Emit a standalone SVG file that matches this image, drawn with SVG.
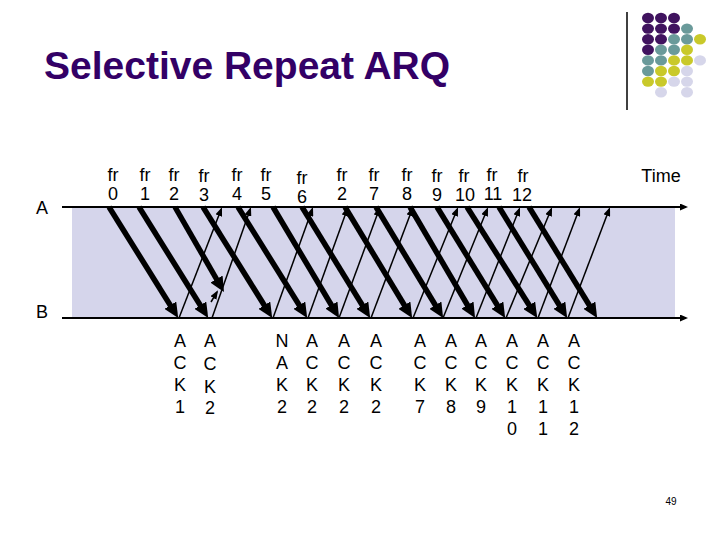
<svg xmlns="http://www.w3.org/2000/svg" width="720" height="540" viewBox="0 0 720 540">
<defs>
<style>
text{font-family:"Liberation Sans",Arial,sans-serif;fill:#000}
.lbl{font-size:18px;text-anchor:middle}
.title{font-size:39px;font-weight:bold;fill:#330066}
.thick{stroke:#000;stroke-width:5.5;fill:none;marker-end:url(#bigHead)}
.thin{stroke:#000;stroke-width:1.5;fill:none;marker-end:url(#smallHead)}
.axis{stroke:#000;stroke-width:2;fill:none;marker-end:url(#axisHead)}
.p{fill:#40135f}.t{fill:#6a9a9a}.y{fill:#c9c92a}.l{fill:#d6d6ea}
</style>
<marker id="bigHead" markerUnits="userSpaceOnUse" viewBox="0 0 15 14" markerWidth="15" markerHeight="14" refX="8" refY="7" orient="auto"><path d="M0,0 L15,7 L0,14 z" fill="#000"/></marker>
<marker id="smallHead" markerUnits="userSpaceOnUse" viewBox="0 0 9 7" markerWidth="9" markerHeight="7" refX="7" refY="3.5" orient="auto"><path d="M0,0 L9,3.5 L0,7 z" fill="#000"/></marker>
<marker id="axisHead" markerUnits="userSpaceOnUse" viewBox="0 0 8 7" markerWidth="8" markerHeight="7" refX="6" refY="3.5" orient="auto"><path d="M0,0 L8,3.5 L0,7 z" fill="#000"/></marker>
</defs>
<rect width="720" height="540" fill="#fff"/>
<g id="title"><text class="title" x="44" y="79">Selective Repeat ARQ</text></g>
<g id="logo">
<line x1="627" y1="12" x2="627" y2="110" stroke="#000" stroke-width="1.5"/>
<ellipse class="p" cx="648" cy="18" rx="6" ry="5.2"/><ellipse class="p" cx="661" cy="18" rx="6" ry="5.2"/><ellipse class="p" cx="674" cy="18" rx="6" ry="5.2"/>
<ellipse class="p" cx="648" cy="28.6" rx="6" ry="5.2"/><ellipse class="p" cx="661" cy="28.6" rx="6" ry="5.2"/><ellipse class="p" cx="674" cy="28.6" rx="6" ry="5.2"/><ellipse class="t" cx="687" cy="28.6" rx="6" ry="5.2"/>
<ellipse class="p" cx="648" cy="39.2" rx="6" ry="5.2"/><ellipse class="p" cx="661" cy="39.2" rx="6" ry="5.2"/><ellipse class="t" cx="674" cy="39.2" rx="6" ry="5.2"/><ellipse class="t" cx="687" cy="39.2" rx="6" ry="5.2"/><ellipse class="y" cx="700" cy="39.2" rx="6" ry="5.2"/>
<ellipse class="p" cx="648" cy="49.8" rx="6" ry="5.2"/><ellipse class="t" cx="661" cy="49.8" rx="6" ry="5.2"/><ellipse class="t" cx="674" cy="49.8" rx="6" ry="5.2"/><ellipse class="y" cx="687" cy="49.8" rx="6" ry="5.2"/>
<ellipse class="t" cx="648" cy="60.4" rx="6" ry="5.2"/><ellipse class="t" cx="661" cy="60.4" rx="6" ry="5.2"/><ellipse class="y" cx="674" cy="60.4" rx="6" ry="5.2"/><ellipse class="y" cx="687" cy="60.4" rx="6" ry="5.2"/><ellipse class="l" cx="700" cy="60.4" rx="6" ry="5.2"/>
<ellipse class="t" cx="648" cy="71" rx="6" ry="5.2"/><ellipse class="y" cx="661" cy="71" rx="6" ry="5.2"/><ellipse class="y" cx="674" cy="71" rx="6" ry="5.2"/><ellipse class="l" cx="687" cy="71" rx="6" ry="5.2"/>
<ellipse class="y" cx="648" cy="81.6" rx="6" ry="5.2"/><ellipse class="y" cx="661" cy="81.6" rx="6" ry="5.2"/><ellipse class="l" cx="674" cy="81.6" rx="6" ry="5.2"/><ellipse class="l" cx="687" cy="81.6" rx="6" ry="5.2"/>
<ellipse class="l" cx="661" cy="92.2" rx="6" ry="5.2"/><ellipse class="l" cx="687" cy="92.2" rx="6" ry="5.2"/>
</g>
<rect id="band" x="72" y="207" width="603" height="111" fill="#d5d5eb"/>
<g id="stations">
<text class="lbl" x="42" y="214">A</text>
<text class="lbl" x="42" y="318">B</text>
<text class="lbl" x="661" y="182">Time</text>
</g>
<g id="frames">
<g id="fr0"><text class="lbl" x="113" y="181">fr<tspan x="113" dy="19">0</tspan></text></g>
<g id="fr1"><text class="lbl" x="145" y="181">fr<tspan x="145" dy="19">1</tspan></text></g>
<g id="fr2"><text class="lbl" x="174" y="181">fr<tspan x="174" dy="19">2</tspan></text></g>
<g id="fr3"><text class="lbl" x="204" y="181.5">fr<tspan x="204" dy="19">3</tspan></text></g>
<g id="fr4"><text class="lbl" x="237" y="181">fr<tspan x="237" dy="19">4</tspan></text></g>
<g id="fr5"><text class="lbl" x="266" y="181">fr<tspan x="266" dy="19">5</tspan></text></g>
<g id="fr6"><text class="lbl" x="302" y="184">fr<tspan x="302" dy="19">6</tspan></text></g>
<g id="fr2r"><text class="lbl" x="342" y="181">fr<tspan x="342" dy="19">2</tspan></text></g>
<g id="fr7"><text class="lbl" x="374" y="181">fr<tspan x="374" dy="19">7</tspan></text></g>
<g id="fr8"><text class="lbl" x="407" y="181">fr<tspan x="407" dy="19">8</tspan></text></g>
<g id="fr9"><text class="lbl" x="437" y="182">fr<tspan x="437" dy="19">9</tspan></text></g>
<g id="fr10"><text class="lbl" x="464" y="182">fr<tspan x="465" dy="19">10</tspan></text></g>
<g id="fr11"><text class="lbl" x="492" y="181">fr<tspan x="493" dy="19">11</tspan></text></g>
<g id="fr12"><text class="lbl" x="523" y="182">fr<tspan x="522" dy="19">12</tspan></text></g>
</g>
<g id="acks">
<g id="ack1"><text class="lbl" x="180" y="347">A<tspan x="180" dy="22">C</tspan><tspan x="180" dy="22">K</tspan><tspan x="180" dy="22">1</tspan></text></g>
<g id="ack2a"><text class="lbl" x="210" y="347">A<tspan x="210" dy="23">C</tspan><tspan x="210" dy="23">K</tspan><tspan x="210" dy="21">2</tspan></text></g>
<g id="nak2"><text class="lbl" x="282" y="347">N<tspan x="282" dy="22">A</tspan><tspan x="282" dy="22">K</tspan><tspan x="282" dy="22">2</tspan></text></g>
<g id="ack2b"><text class="lbl" x="312" y="347">A<tspan x="312" dy="22">C</tspan><tspan x="312" dy="22">K</tspan><tspan x="312" dy="22">2</tspan></text></g>
<g id="ack2c"><text class="lbl" x="344" y="347">A<tspan x="344" dy="22">C</tspan><tspan x="344" dy="22">K</tspan><tspan x="344" dy="22">2</tspan></text></g>
<g id="ack2d"><text class="lbl" x="376" y="347">A<tspan x="376" dy="22">C</tspan><tspan x="376" dy="22">K</tspan><tspan x="376" dy="22">2</tspan></text></g>
<g id="ack7"><text class="lbl" x="420" y="347">A<tspan x="420" dy="22">C</tspan><tspan x="420" dy="22">K</tspan><tspan x="420" dy="22">7</tspan></text></g>
<g id="ack8"><text class="lbl" x="451" y="347">A<tspan x="451" dy="22">C</tspan><tspan x="451" dy="22">K</tspan><tspan x="451" dy="22">8</tspan></text></g>
<g id="ack9"><text class="lbl" x="481" y="347">A<tspan x="481" dy="22">C</tspan><tspan x="481" dy="22">K</tspan><tspan x="481" dy="22">9</tspan></text></g>
<g id="ack10"><text class="lbl" x="512" y="347">A<tspan x="512" dy="22">C</tspan><tspan x="512" dy="22">K</tspan><tspan x="512" dy="22">1</tspan><tspan x="512" dy="22">0</tspan></text></g>
<g id="ack11"><text class="lbl" x="543" y="347">A<tspan x="543" dy="22">C</tspan><tspan x="543" dy="22">K</tspan><tspan x="543" dy="22">1</tspan><tspan x="543" dy="22">1</tspan></text></g>
<g id="ack12"><text class="lbl" x="574" y="347">A<tspan x="574" dy="22">C</tspan><tspan x="574" dy="22">K</tspan><tspan x="574" dy="22">1</tspan><tspan x="574" dy="22">2</tspan></text></g>
</g>
<g id="connectors">
<line class="axis" x1="62" y1="207" x2="686" y2="207"/>
<line class="axis" x1="62" y1="318" x2="686" y2="318"/>
<line class="thick" x1="109" y1="207" x2="174.5" y2="312"/>
<line class="thick" x1="139" y1="207" x2="204.5" y2="312"/>
<line class="thick" x1="175" y1="207" x2="220.5" y2="286"/>
<line class="thick" x1="203" y1="207" x2="268.5" y2="312"/>
<line class="thick" x1="238" y1="207" x2="303.5" y2="312"/>
<line class="thick" x1="273" y1="207" x2="335.5" y2="312"/>
<line class="thick" x1="302" y1="207" x2="366.5" y2="312"/>
<line class="thick" x1="345" y1="207" x2="408.5" y2="312"/>
<line class="thick" x1="376" y1="207" x2="439.5" y2="312"/>
<line class="thick" x1="410" y1="207" x2="471.5" y2="312"/>
<line class="thick" x1="437" y1="207" x2="501.5" y2="312"/>
<line class="thick" x1="467" y1="207" x2="533.5" y2="312"/>
<line class="thick" x1="499" y1="207" x2="563.5" y2="312"/>
<line class="thick" x1="529" y1="207" x2="593.5" y2="312"/>
<line class="thin" x1="179" y1="318" x2="221.3" y2="209"/>
<line class="thin" x1="212" y1="318" x2="250.3" y2="209"/>
<line class="thin" x1="273" y1="318" x2="312.3" y2="209"/>
<line class="thin" x1="308" y1="318" x2="347.3" y2="209"/>
<line class="thin" x1="339" y1="318" x2="379.3" y2="209"/>
<line class="thin" x1="371" y1="318" x2="412.3" y2="209"/>
<line class="thin" x1="413" y1="318" x2="457.3" y2="209"/>
<line class="thin" x1="443" y1="318" x2="487.3" y2="209"/>
<line class="thin" x1="476" y1="318" x2="519.3" y2="209"/>
<line class="thin" x1="506" y1="318" x2="551.3" y2="209"/>
<line class="thin" x1="538" y1="318" x2="579.3" y2="209"/>
<line class="thin" x1="568" y1="318" x2="609.3" y2="209"/>
<line class="thin" x1="211" y1="302" x2="217" y2="292"/>
</g>
<g id="page"><text x="671" y="505" font-size="10" text-anchor="middle">49</text></g>
</svg>
